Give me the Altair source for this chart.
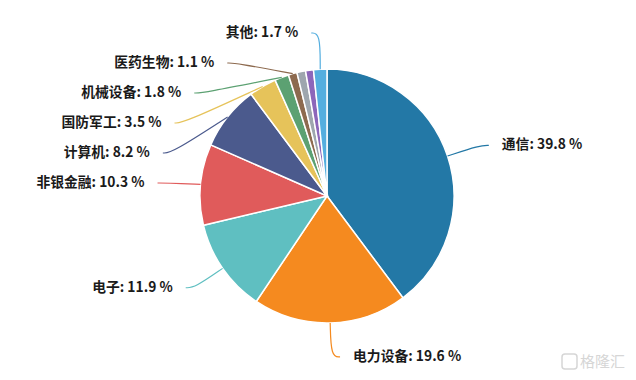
import math
import altair as alt
import pandas as pd

# ---- data ----
categories = ["通信", "电力设备", "电子", "非银金融", "计算机", "国防军工",
              "机械设备", "医药生物", "未标注A", "未标注B", "其他"]
values = [39.8, 19.6, 11.9, 10.3, 8.2, 3.5, 1.8, 1.1, 1.1, 1.0, 1.7]
show_label = [True, True, True, True, True, True, True, True, False, False, True]
colors = ["#2378a6", "#f58a1f", "#5fbfc1", "#e05b5b", "#4b5a8d", "#e6c35a",
          "#5ca172", "#8d6a4f", "#9ea6ae", "#8c66ba", "#54aedf"]

# ---- layout constants ----
W, H = 620, 364
CX, CY = 319, 188
R_PIE = 127
R_LABEL = 161
LEN2 = 9
TEXT_GAP = 13
LINE_H = 30
TOP = -163

total = sum(values)
rows = []
cum = 0.0
for i, (c, v) in enumerate(zip(categories, values)):
    a0 = cum / total * 2 * math.pi
    cum += v
    a1 = cum / total * 2 * math.pi
    rows.append(dict(idx=i, cat=c, value=v, mid=(a0 + a1) / 2, show=show_label[i]))
df = pd.DataFrame(rows)


def spread(ys, gap, top):
    clusters = []
    for y in ys:
        clusters.append([y])
        while len(clusters) > 1:
            c1, c2 = clusters[-2], clusters[-1]
            s1 = sum(c1) / len(c1) - (len(c1) - 1) * gap / 2
            e1 = s1 + (len(c1) - 1) * gap
            s2 = sum(c2) / len(c2) - (len(c2) - 1) * gap / 2
            if s2 - e1 < gap:
                clusters[-2] = c1 + c2
                clusters.pop()
            else:
                break
    out = []
    for c in clusters:
        s = sum(c) / len(c) - (len(c) - 1) * gap / 2
        out += [s + k * gap for k in range(len(c))]
    prev = top - gap
    res = []
    for y in out:
        y = max(y, prev + gap)
        res.append(y)
        prev = y
    return res


labels = df[df["show"]].copy()
labels["sx"] = R_PIE * labels["mid"].apply(math.sin)
labels["sy"] = -R_PIE * labels["mid"].apply(math.cos)
labels["ny"] = -R_LABEL * labels["mid"].apply(math.cos)
labels["side"] = labels["sx"].apply(lambda s: "right" if s >= 0 else "left")
labels["ly"] = 0.0
for side in ["left", "right"]:
    sub = labels[labels["side"] == side].sort_values("ny")
    ys = spread(list(sub["ny"]), LINE_H, TOP)
    for ix, y in zip(sub.index, ys):
        labels.loc[ix, "ly"] = y

line_rows = []
text_rows = []
for _, r in labels.iterrows():
    sgn = 1 if r["side"] == "right" else -1
    ex = sgn * max(math.sqrt(max(R_LABEL ** 2 - r["ly"] ** 2, 0)), abs(r["sx"]))
    endx = ex + sgn * LEN2
    line_rows += [
        dict(cat=r["cat"], pt=0, x=r["sx"], y=r["sy"]),
        dict(cat=r["cat"], pt=1, x=ex, y=r["ly"]),
        dict(cat=r["cat"], pt=2, x=endx, y=r["ly"]),
    ]
    text_rows.append(dict(cat=r["cat"], side=r["side"], x=endx + sgn * TEXT_GAP, y=r["ly"],
                          label=f"{r['cat']}: {r['value']:.1f} %"))
lines_df = pd.DataFrame(line_rows)
text_df = pd.DataFrame(text_rows)

xs = alt.Scale(domain=[-CX, W - CX], nice=False, zero=False)
ys_ = alt.Scale(domain=[-CY, H - CY], nice=False, zero=False, reverse=True)
color = alt.Color("cat:N", scale=alt.Scale(domain=categories, range=colors), legend=None)

pie = alt.Chart(df).mark_arc(outerRadius=R_PIE, stroke="white", strokeWidth=1.5).encode(
    theta=alt.Theta("value:Q", stack=True),
    order=alt.Order("idx:Q"),
    color=color,
    x=alt.value(CX),
    y=alt.value(CY),
)

leaders = alt.Chart(lines_df).mark_line(interpolate="basis", strokeWidth=1.2).encode(
    x=alt.X("x:Q", scale=xs, axis=None),
    y=alt.Y("y:Q", scale=ys_, axis=None),
    detail="cat:N",
    order="pt:Q",
    color=color,
)

FS = 13.8
text_left = alt.Chart(text_df[text_df["side"] == "left"]).mark_text(
    align="right", baseline="middle", font="Noto Sans CJK SC", fontSize=FS,
    fontWeight="bold", color="#1a1a1a"
).encode(
    x=alt.X("x:Q", scale=xs, axis=None),
    y=alt.Y("y:Q", scale=ys_, axis=None),
    text="label:N",
)
text_right = alt.Chart(text_df[text_df["side"] == "right"]).mark_text(
    align="left", baseline="middle", font="Noto Sans CJK SC", fontSize=FS,
    fontWeight="bold", color="#1a1a1a"
).encode(
    x=alt.X("x:Q", scale=xs, axis=None),
    y=alt.Y("y:Q", scale=ys_, axis=None),
    text="label:N",
)

wm_df = pd.DataFrame({"t": ["格隆汇"]})
wm_box = alt.Chart(wm_df).mark_rect(
    filled=False, stroke="#d6d6d6", strokeWidth=1.5, cornerRadius=3
).encode(x=alt.value(554), x2=alt.value(569), y=alt.value(346), y2=alt.value(361))
wm = alt.Chart(wm_df).mark_text(
    align="left", baseline="middle", font="Noto Sans CJK SC", fontSize=15,
    color="#d6d6d6"
).encode(x=alt.value(572), y=alt.value(354), text="t:N")

chart = alt.layer(pie, leaders, text_left, text_right, wm_box, wm).properties(
    width=W, height=H, padding=0,
    autosize=alt.AutoSizeParams(type="fit", contains="padding"),
    background="white",
).configure_view(stroke=None)

chart.save("out.html", embed_options={"renderer": "svg", "actions": False})
